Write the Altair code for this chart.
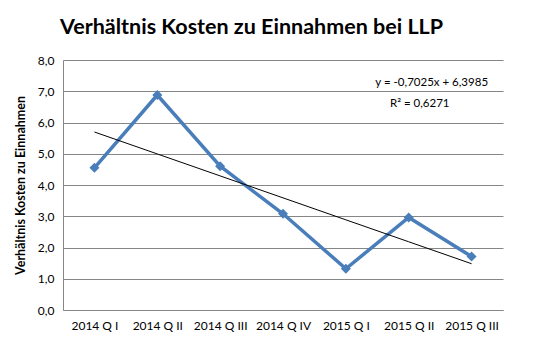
import altair as alt
import pandas as pd

categories = ["2014 Q I", "2014 Q II", "2014 Q III", "2014 Q IV", "2015 Q I", "2015 Q II", "2015 Q III"]
values = [4.55, 6.88, 4.60, 3.08, 1.32, 2.96, 1.71]
slope = -0.7025
intercept = 6.3985
r2 = 0.6271
y_ticks = [0, 1, 2, 3, 4, 5, 6, 7, 8]

FONT = "Lato"

df = pd.DataFrame({"cat": categories, "val": values, "idx": list(range(1, len(categories) + 1))})
df["trend"] = slope * df["idx"] + intercept

def de(num, digits):
    return f"{num:.{digits}f}".replace(".", ",")

eq_text = f"y = {de(slope, 4)}x + {de(intercept, 4)}"
r2_text = f"R² = {de(r2, 4)}"
ann = pd.DataFrame({
    "cat": ["2015 Q II", "2015 Q II"],
    "val": [7.28, 6.6],
    "text": [eq_text, r2_text],
    "dx": [23, 11],
})

x_enc = alt.X(
    "cat:N",
    sort=categories,
    scale=alt.Scale(type="point", padding=0.5, domain=categories),
    axis=alt.Axis(
        title=None, labelAngle=0, ticks=False, grid=False,
        domainColor="#868686", labelPadding=10, labelFontSize=12,
        labelFont=FONT, labelColor="#000000",
    ),
)
y_axis = alt.Axis(
    title="Verhältnis Kosten zu Einnahmen", titleFont=FONT, titleFontSize=12.5,
    titleFontWeight="bold", titleColor="#000000", titlePadding=10,
    values=y_ticks, tickCount=len(y_ticks), labelOverlap=False,
    labelExpr="replace(format(datum.value, '.1f'), '.', ',')",
    ticks=False, grid=True, gridColor="#868686", domainColor="#868686",
    labelPadding=9, labelFontSize=12, labelFont=FONT, labelColor="#000000",
)
y_scale = alt.Scale(domain=[0, 8], nice=False, zero=True)

base = alt.Chart(df)

line = base.mark_line(color="#4A7EBB", strokeWidth=3.5).encode(
    x=x_enc, y=alt.Y("val:Q", scale=y_scale, axis=y_axis))
pts = base.mark_point(shape="diamond", filled=True, size=100, color="#4A7EBB", opacity=1).encode(
    x=x_enc, y=alt.Y("val:Q", scale=y_scale, axis=y_axis))
trend = base.mark_line(color="#000000", strokeWidth=1).encode(
    x=x_enc, y=alt.Y("trend:Q", scale=y_scale, axis=y_axis))

texts = alt.Chart(ann).mark_text(font=FONT, fontSize=11.5, color="#000000", align="center", baseline="middle").encode(
    x=x_enc,
    y=alt.Y("val:Q", scale=y_scale, axis=y_axis),
    text="text:N",
    xOffset=alt.XOffset("dx:Q", scale=None),
)

chart = alt.layer(line, pts, trend, texts).properties(
    width=440,
    height=250,
    title=alt.TitleParams(
        "Verhältnis Kosten zu Einnahmen bei LLP",
        font=FONT, fontSize=21.5, fontWeight="bold", color="#000000",
        anchor="start", frame="group", dx=-3, offset=16,
    ),
    autosize=alt.AutoSizeParams(type="none"),
    padding={"left": 63, "top": 60, "right": 34, "bottom": 45},
    background="#FFFFFF",
).configure_view(stroke=None)

chart.save("out.html", embed_options={"renderer": "svg", "actions": False})
